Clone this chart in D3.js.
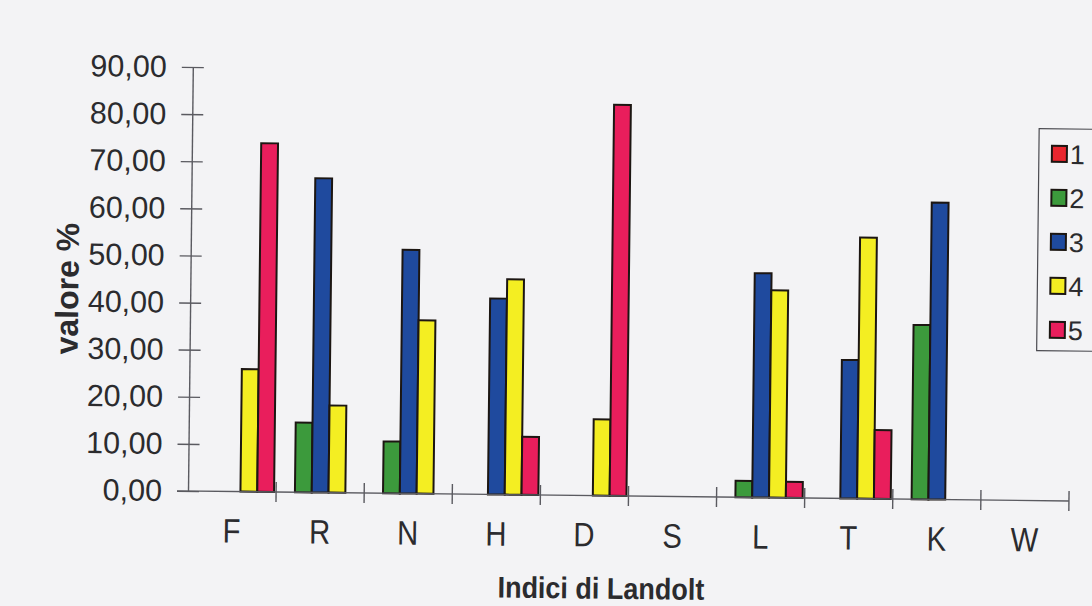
<!DOCTYPE html>
<html>
<head>
<meta charset="utf-8">
<script src="https://cdn.jsdelivr.net/npm/d3@7"></script>
<style>
  html, body { margin: 0; padding: 0; background: #f3f3f5; }
  svg { display: block; }
  text { font-family: "Liberation Sans", Arial, sans-serif; fill: #2b2b2e; }
</style>
</head>
<body>
<svg id="chart" width="1092" height="606"></svg>
<script>
// Indici di Landolt – percentage per class (1..5)
const categories = ["F", "R", "N", "H", "D", "S", "L", "T", "K", "W"];
const seriesNames = ["1", "2", "3", "4", "5"];
const serie1 = [0, 0, 0, 0, 0, 0, 0, 0, 0, 0];
const serie2 = [0, 14.8, 11.0, 0, 0, 0, 3.5, 0, 37.0, 0];
const serie3 = [0, 66.7, 51.7, 41.6, 0, 0, 47.6, 29.4, 63.0, 0];
const serie4 = [26.0, 18.5, 36.8, 45.7, 16.2, 0, 44.0, 55.4, 0, 0];
const serie5 = [74.0, 0, 0, 12.3, 83.0, 0, 3.4, 14.6, 0, 0];
const yTickValues = [0, 10, 20, 30, 40, 50, 60, 70, 80, 90];
const seriesColors = ["#e8262e", "#3c9a3c", "#1f4a9e", "#f4ee22", "#e91e5c"];

const seriesValues = [serie1, serie2, serie3, serie4, serie5];
const rows = [];
categories.forEach((c, i) => {
  seriesNames.forEach((s, j) => {
    rows.push({ cat: c, ser: s, value: seriesValues[j][i], color: seriesColors[j] });
  });
});

const svg = d3.select("#chart");
svg.append("rect").attr("width", 1092).attr("height", 606).attr("fill", "#f3f3f5");

const origin = { x: 188, y: 491 };
const plotRight = 1069, plotTop = 67;

// whole sheet sits slightly tilted
const g = svg.append("g").attr("transform", `rotate(0.65, ${origin.x}, ${origin.y})`);

const x0 = d3.scaleBand().domain(categories).range([origin.x, plotRight]).paddingInner(0).paddingOuter(0);
const x1 = d3.scaleBand().domain(seriesNames).range([0, x0.bandwidth()]).paddingInner(0).paddingOuter(0.12);
const y = d3.scaleLinear().domain([0, 90]).range([origin.y, plotTop]);

const fmt = v => d3.format(".2f")(v).replace(".", ",");

// bars
g.append("g").selectAll("rect")
  .data(rows.filter(d => d.value > 0))
  .join("rect")
  .attr("x", d => x0(d.cat) + x1(d.ser))
  .attr("y", d => y(d.value))
  .attr("width", x1.bandwidth())
  .attr("height", d => y(0) - y(d.value))
  .attr("fill", d => d.color)
  .attr("stroke", "#1c1612")
  .attr("stroke-width", 2);

// y axis
const yAxis = d3.axisLeft(y).tickValues(yTickValues).tickFormat(fmt).tickSizeInner(0).tickSizeOuter(0).tickPadding(26);
const yAx = g.append("g").attr("transform", `translate(${origin.x},0)`).call(yAxis);
yAx.select(".domain").attr("stroke", "#5a5a60").attr("stroke-width", 1.4);
yAx.selectAll(".tick line").attr("x1", -11).attr("x2", 11).attr("stroke", "#5a5a60").attr("stroke-width", 1.4);
yAx.selectAll(".tick text").attr("font-size", 30.5).attr("fill", "#2b2b2e")
  .attr("font-family", "Liberation Sans, Arial, sans-serif");

// x axis: crossing ticks on category boundaries
const xAx = g.append("g");
xAx.append("line").attr("x1", origin.x - 11).attr("x2", plotRight)
  .attr("y1", origin.y).attr("y2", origin.y).attr("stroke", "#5a5a60").attr("stroke-width", 1.4);
const bounds = categories.map(c => x0(c)).concat([x0.range()[1]]);
xAx.selectAll("line.b").data(bounds.slice(1)).join("line").attr("class", "b")
  .attr("x1", d => d).attr("x2", d => d)
  .attr("y1", origin.y - 10).attr("y2", origin.y + 10)
  .attr("stroke", "#5a5a60").attr("stroke-width", 1.4);
xAx.selectAll("text").data(categories).join("text")
  .attr("transform", d => `translate(${x0(d) + x0.bandwidth() / 2}, 542) scale(0.86, 1)`)
  .attr("text-anchor", "middle")
  .attr("font-size", 34)
  .text(d => d);

// axis titles
g.append("text")
  .attr("transform", `translate(76, 290) rotate(-90)`)
  .attr("text-anchor", "middle")
  .attr("font-size", 32)
  .attr("font-weight", "bold")
  .text("valore %");
g.append("text")
  .attr("transform", "translate(602, 594) scale(0.9, 1)")
  .attr("text-anchor", "middle")
  .attr("font-size", 30)
  .attr("font-weight", "bold")
  .text("Indici di Landolt");

// legend
const lg = g.append("g").attr("transform", "translate(1035,119)");
lg.append("rect").attr("width", 80).attr("height", 222)
  .attr("fill", "none").attr("stroke", "#4a4a50").attr("stroke-width", 1.2);
const li = lg.selectAll("g.item").data(seriesNames).join("g").attr("class", "item")
  .attr("transform", (d, i) => `translate(0, ${25 + i * 44})`);
li.append("rect").attr("x", 13).attr("y", -8).attr("width", 15).attr("height", 16)
  .attr("fill", (d, i) => seriesColors[i]).attr("stroke", "#1c1612").attr("stroke-width", 2);
li.append("text").attr("x", 31).attr("y", 10).attr("font-size", 27).text(d => d);
</script>
</body>
</html>
